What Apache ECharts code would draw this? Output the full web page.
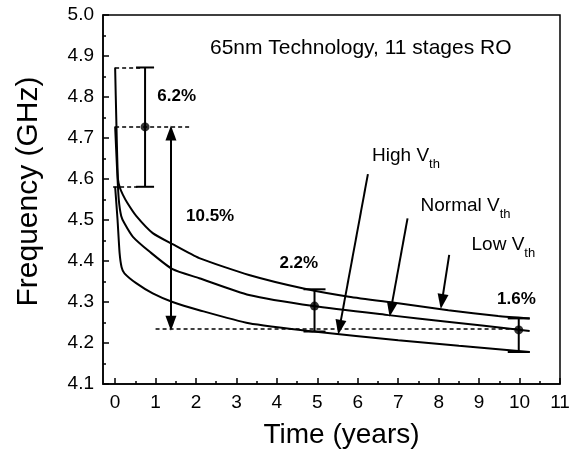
<!DOCTYPE html>
<html>
<head>
<meta charset="utf-8">
<script src="https://cdn.jsdelivr.net/npm/echarts@6/dist/echarts.min.js"></script>
<style>
html,body{margin:0;padding:0;background:#fff;}
#c{width:574px;height:457px;}
</style>
</head>
<body>
<div id="c"></div>
<script>
// ---- tick labels ----
const xTicks = [0,1,2,3,4,5,6,7,8,9,10,11];
const xMinorTicks = [0.5,1.5,2.5,3.5,4.5,5.5,6.5,7.5,8.5,9.5,10.5];
const yTicks = [4.1,4.2,4.3,4.4,4.5,4.6,4.7,4.8,4.9,5.0];

// ---- curves (time in years, frequency in GHz) ----
const tLowVth  = [0, 0.03, 0.07, 0.12, 0.19, 0.3, 0.52, 0.93, 1.42, 2.08, 3.31, 4.66, 5.78, 7.0, 8.24, 9.47, 10.25];
const fLowVth  = [4.872, 4.74, 4.60, 4.578, 4.562, 4.542, 4.51, 4.468, 4.441, 4.407, 4.366, 4.333, 4.313, 4.297, 4.280, 4.266, 4.260];

const tNormalVth = [0, 0.05, 0.09, 0.15, 0.23, 0.44, 0.85, 1.42, 2.08, 3.31, 4.91, 6.76, 8.21, 9.93, 10.25];
const fNormalVth = [4.728, 4.62, 4.55, 4.51, 4.492, 4.459, 4.423, 4.380, 4.358, 4.317, 4.290, 4.268, 4.252, 4.233, 4.229];

const tHighVth = [0, 0.06, 0.11, 0.16, 0.23, 0.52, 0.93, 1.42, 2.08, 3.31, 4.91, 7.0, 8.5, 10.25];
const fHighVth = [4.581, 4.50, 4.42, 4.385, 4.37, 4.346, 4.321, 4.300, 4.280, 4.248, 4.228, 4.207, 4.193, 4.178];

// ---- error bars ----
const barT    = [0.74, 4.93, 9.98];
const barLow  = [4.581, 4.228, 4.178];
const barMid  = [4.727, 4.290, 4.232];
const barHigh = [4.872, 4.331, 4.260];

// ---- annotation texts ----
const pctTexts = ['6.2%', '10.5%', '2.2%', '1.6%'];
const vthTexts = ['High', 'Normal', 'Low'];
const titleText = '65nm Technology, 11 stages RO';

// ---- annotation anchors (data coordinates) ----
const pctAnchors = [[1.03, 4.802], [1.74, 4.508], [4.05, 4.394], [9.43, 4.307]];
const vthAnchors = [[6.34, 4.654], [7.54, 4.532], [8.80, 4.436]];
const vthArrows = [
  [[6.25, 4.612], [5.55, 4.238]],
  [[7.23, 4.504], [6.82, 4.282]],
  [[8.26, 4.415], [8.08, 4.301]]
];
const spanArrow = [[1.38, 4.712], [1.38, 4.248]];
const dottedLines = [
  [[0.0, 4.872], [0.62, 4.872]],
  [[0.0, 4.727], [1.83, 4.727]],
  [[-0.05, 4.581], [0.55, 4.581]],
  [[1.0, 4.234], [10.0, 4.234]]
];

const FONT = '"Liberation Sans", Arial, Helvetica, sans-serif';
const pairs = (ts, fs) => ts.map((t, i) => [t, fs[i]]);

const chart = echarts.init(document.getElementById('c'), null, {renderer: 'canvas'});

const curveStyle = {color: '#000', width: 2};
const markLineData = [];
dottedLines.forEach(l => markLineData.push([
  {coord: l[0], symbol: 'none', lineStyle: {type: [4, 3], width: 1.5, color: '#000'}},
  {coord: l[1], symbol: 'none'}
]));
vthArrows.forEach(l => markLineData.push([
  {coord: l[0], symbol: 'none', lineStyle: {type: 'solid', width: 2, color: '#000'}},
  {coord: l[1], symbol: 'triangle', symbolSize: [11, 15]}
]));
markLineData.push([
  {coord: spanArrow[0], symbol: 'triangle', symbolSize: [11, 15], lineStyle: {type: 'solid', width: 2, color: '#000'}},
  {coord: spanArrow[1], symbol: 'triangle', symbolSize: [11, 15]}
]);

const markPointData = [];
pctTexts.forEach((s, i) => markPointData.push({
  coord: pctAnchors[i], value: s,
  label: {show: true, position: 'right', distance: 0, formatter: s,
    fontFamily: FONT, fontSize: 17, fontWeight: 'bold', color: '#000'}
}));
vthTexts.forEach((s, i) => markPointData.push({
  coord: vthAnchors[i], value: s,
  label: {show: true, position: 'right', distance: 0,
    formatter: '{a|' + s + ' V}{b|th}',
    rich: {
      a: {fontFamily: FONT, fontSize: 19, lineHeight: 22, verticalAlign: 'top', color: '#000'},
      b: {fontFamily: FONT, fontSize: 13, lineHeight: 15, padding: [12, 0, 0, 0], verticalAlign: 'top', color: '#000'}
    }}
}));

const option = {
  animation: false,
  backgroundColor: '#fff',
  grid: {left: 103, right: 14, top: 15, bottom: 73, show: true, borderColor: '#000', borderWidth: 1.5,
    containLabel: false, outerBoundsMode: 'none'},
  xAxis: [{
    type: 'value', min: -0.3, max: 11,
    axisLine: {show: true, onZero: false, lineStyle: {color: '#000', width: 1.5}},
    axisTick: {show: true, inside: true, length: 6, customValues: xTicks, lineStyle: {color: '#000', width: 1.5}},
    axisLabel: {show: true, customValues: xTicks, margin: 9, fontFamily: FONT, fontSize: 19, color: '#000'},
    splitLine: {show: false},
    name: 'Time (years)', nameLocation: 'middle', nameGap: 37,
    nameTextStyle: {fontFamily: FONT, fontSize: 28, color: '#000', padding: [0, 0, 0, 20]}
  }, {
    type: 'value', min: -0.3, max: 11, position: 'bottom',
    axisLine: {show: false},
    axisTick: {show: true, inside: true, length: 3, customValues: xMinorTicks, lineStyle: {color: '#000', width: 1.5}},
    axisLabel: {show: false},
    splitLine: {show: false}
  }],
  yAxis: {
    type: 'value', min: 4.1, max: 5.0, interval: 0.1,
    axisLine: {show: true, onZero: false, lineStyle: {color: '#000', width: 1.5}},
    axisTick: {show: true, inside: true, length: 6, customValues: yTicks, lineStyle: {color: '#000', width: 1.5}},
    minorTick: {show: true, splitNumber: 2, length: 3, lineStyle: {color: '#000', width: 1.5}},
    axisLabel: {show: true, margin: 9, fontFamily: FONT, fontSize: 19, color: '#000',
      formatter: v => v.toFixed(1)},
    splitLine: {show: false},
    name: 'Frequency (GHz)', nameLocation: 'middle', nameGap: 59,
    nameTextStyle: {fontFamily: FONT, fontSize: 30, color: '#000', padding: [0, 0, 0, 16]}
  },
  graphic: [{
    type: 'text', left: 210, top: 38,
    style: {text: titleText, font: '21px ' + FONT, fill: '#000'}
  }],
  series: [
    {type: 'line', name: 'Low Vth', data: pairs(tLowVth, fLowVth), showSymbol: false, symbol: 'none',
      lineStyle: curveStyle, smooth: 0.2, z: 3},
    {type: 'line', name: 'Normal Vth', data: pairs(tNormalVth, fNormalVth), showSymbol: false, symbol: 'none',
      lineStyle: curveStyle, smooth: 0.2, z: 3},
    {type: 'line', name: 'High Vth', data: pairs(tHighVth, fHighVth), showSymbol: false, symbol: 'none',
      lineStyle: curveStyle, smooth: 0.2, z: 3,
      markLine: {silent: true, animation: false, label: {show: false}, data: markLineData},
      markPoint: {silent: true, symbol: 'rect', symbolSize: 1, itemStyle: {color: 'rgba(0,0,0,0)'}, data: markPointData}
    },
    {type: 'custom', name: 'bars', z: 4,
      data: barT.map((t, i) => [t, barLow[i], barHigh[i], i === 0 ? 9 : 11]),
      renderItem: (params, api) => {
        const x = api.value(0);
        const lo = api.coord([x, api.value(1)]);
        const hi = api.coord([x, api.value(2)]);
        const hw = api.value(3);
        const st = {stroke: '#000', lineWidth: 2};
        return {type: 'group', children: [
          {type: 'line', shape: {x1: lo[0], y1: lo[1], x2: hi[0], y2: hi[1]}, style: st},
          {type: 'line', shape: {x1: lo[0] - hw, y1: lo[1], x2: lo[0] + hw, y2: lo[1]}, style: st},
          {type: 'line', shape: {x1: hi[0] - hw, y1: hi[1], x2: hi[0] + hw, y2: hi[1]}, style: st}
        ]};
      }
    },
    {type: 'scatter', name: 'means', data: pairs(barT, barMid), symbol: 'circle', symbolSize: 9,
      itemStyle: {color: '#000'}, z: 5}
  ]
};
chart.setOption(option);
</script>
</body>
</html>
